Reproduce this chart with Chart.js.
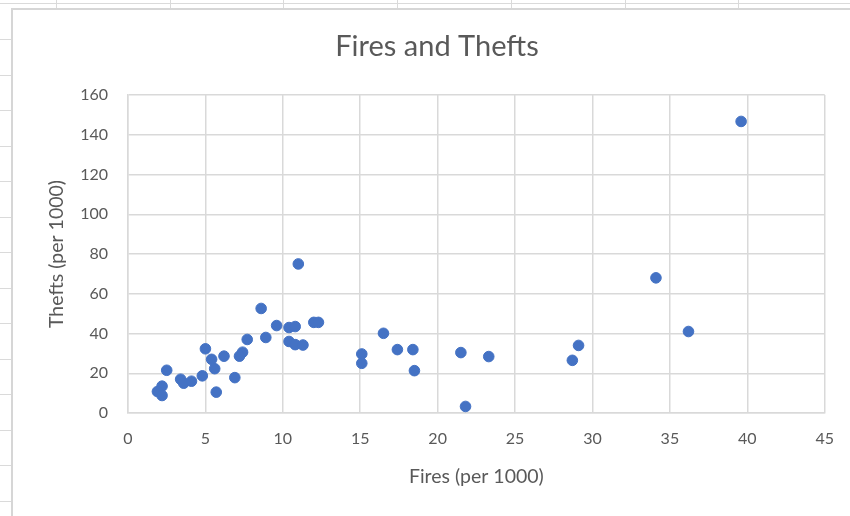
<!DOCTYPE html>
<html>
<head>
<meta charset="utf-8">
<script src="https://cdn.jsdelivr.net/npm/chart.js@4/dist/chart.umd.min.js"></script>
<style>
  html, body { margin: 0; padding: 0; background: #fff; }
  #wrap { width: 850px; height: 516px; position: relative; }
</style>
</head>
<body>
<div id="wrap"><canvas id="chart" width="850" height="516"></canvas></div>
<script>
// Fires and thefts per 1000 households, one point per district
const fires = [
  11.0, 8.6, 9.6, 8.9, 7.7, 10.4, 10.8, 10.4, 10.8, 11.3,
  12.0, 12.3, 7.4, 7.2, 6.2, 5.0, 5.4, 5.6, 4.8, 6.9,
  5.7, 2.5, 3.4, 3.6, 4.1, 2.2, 1.9, 2.2, 15.1, 15.1,
  16.5, 17.4, 18.4, 18.5, 21.5, 21.8, 23.3, 28.7, 29.1, 34.1,
  36.2, 39.6
];
const thefts = [
  75, 52.6, 44, 38, 37, 43, 43.5, 36, 34.4, 34.2,
  45.6, 45.6, 30.6, 28.6, 28.6, 32.3, 27, 22.3, 18.7, 17.8,
  10.5, 21.5, 17, 15, 16, 13.5, 10.8, 8.8, 29.7, 25,
  40.1, 31.9, 31.9, 21.3, 30.4, 3.3, 28.4, 26.5, 34, 68,
  41, 146.7
];
const xRange = { min: 0, max: 45, step: 5 };
const yRange = { min: 0, max: 160, step: 20 };

const chartTitle = 'Fires and Thefts';
const xTitle = 'Fires (per 1000)';
const yTitle = 'Thefts (per 1000)';

const points = fires.map((f, i) => ({ x: f, y: thefts[i] }));

const FONT = 'Lato, "Open Sans", sans-serif';
const TEXT = '#595959';
const GRID = '#d9d9d9';

// Worksheet cells visible around the embedded chart, plus the chart frame
const sheetBackdrop = {
  id: 'sheetBackdrop',
  beforeDraw(chart) {
    const { ctx, width, height } = chart;
    ctx.save();
    ctx.fillStyle = '#ffffff';
    ctx.fillRect(0, 0, width, height);
    ctx.strokeStyle = '#dadada';
    ctx.lineWidth = 1;
    ctx.beginPath();
    ctx.moveTo(0, 3.5); ctx.lineTo(width, 3.5);
    for (let x = 56; x < width; x += 113.7) {
      const px = Math.round(x) + 0.5;
      ctx.moveTo(px, 0); ctx.lineTo(px, 9);
    }
    for (let y = 39; y < height; y += 35.5) {
      const py = Math.round(y) + 0.5;
      ctx.moveTo(0, py); ctx.lineTo(11, py);
    }
    ctx.stroke();
    ctx.strokeStyle = '#d6d6d6';
    ctx.lineWidth = 2;
    ctx.beginPath();
    ctx.moveTo(12, height); ctx.lineTo(12, 9); ctx.lineTo(width, 9);
    ctx.stroke();
    ctx.restore();
  }
};

// Chart heading, centred on the chart frame
const frameTitle = {
  id: 'frameTitle',
  afterDraw(chart) {
    const { ctx } = chart;
    ctx.save();
    ctx.fillStyle = TEXT;
    ctx.font = '29px ' + FONT;
    ctx.textAlign = 'center';
    ctx.textBaseline = 'middle';
    ctx.fillText(chartTitle, 437, 47);
    ctx.restore();
  }
};

new Chart(document.getElementById('chart'), {
  type: 'scatter',
  data: {
    datasets: [{
      data: points,
      backgroundColor: '#4472C4',
      borderColor: '#4472C4',
      borderWidth: 1,
      pointRadius: 5.3,
      pointHoverRadius: 5.3
    }]
  },
  options: {
    responsive: false,
    animation: false,
    devicePixelRatio: 1,
    layout: { padding: { top: 95, left: 11, right: 24, bottom: 0 } },
    plugins: {
      legend: { display: false },
      title: { display: false },
      tooltip: { enabled: false }
    },
    scales: {
      x: {
        type: 'linear',
        min: xRange.min,
        max: xRange.max,
        ticks: { stepSize: xRange.step, color: TEXT, font: { family: FONT, size: 16 }, padding: 16, maxRotation: 0 },
        grid: { color: GRID, lineWidth: 1.5, drawTicks: false },
        border: { color: GRID, width: 1.5 },
        title: { display: true, text: xTitle, color: TEXT, font: { family: FONT, size: 19.5 }, padding: { top: 0, bottom: 27.3 } },
        afterFit(scale) { scale.height = 103; }
      },
      y: {
        type: 'linear',
        min: yRange.min,
        max: yRange.max,
        ticks: { stepSize: yRange.step, color: TEXT, font: { family: FONT, size: 16 }, padding: 20 },
        grid: { color: GRID, lineWidth: 1.5, drawTicks: false },
        border: { color: GRID, width: 1.5 },
        title: { display: true, text: yTitle, color: TEXT, font: { family: FONT, size: 19.5 }, padding: { top: 34.3, bottom: 0 } },
        afterFit(scale) { scale.width = 117; }
      }
    }
  },
  plugins: [sheetBackdrop, frameTitle]
});
</script>
</body>
</html>
